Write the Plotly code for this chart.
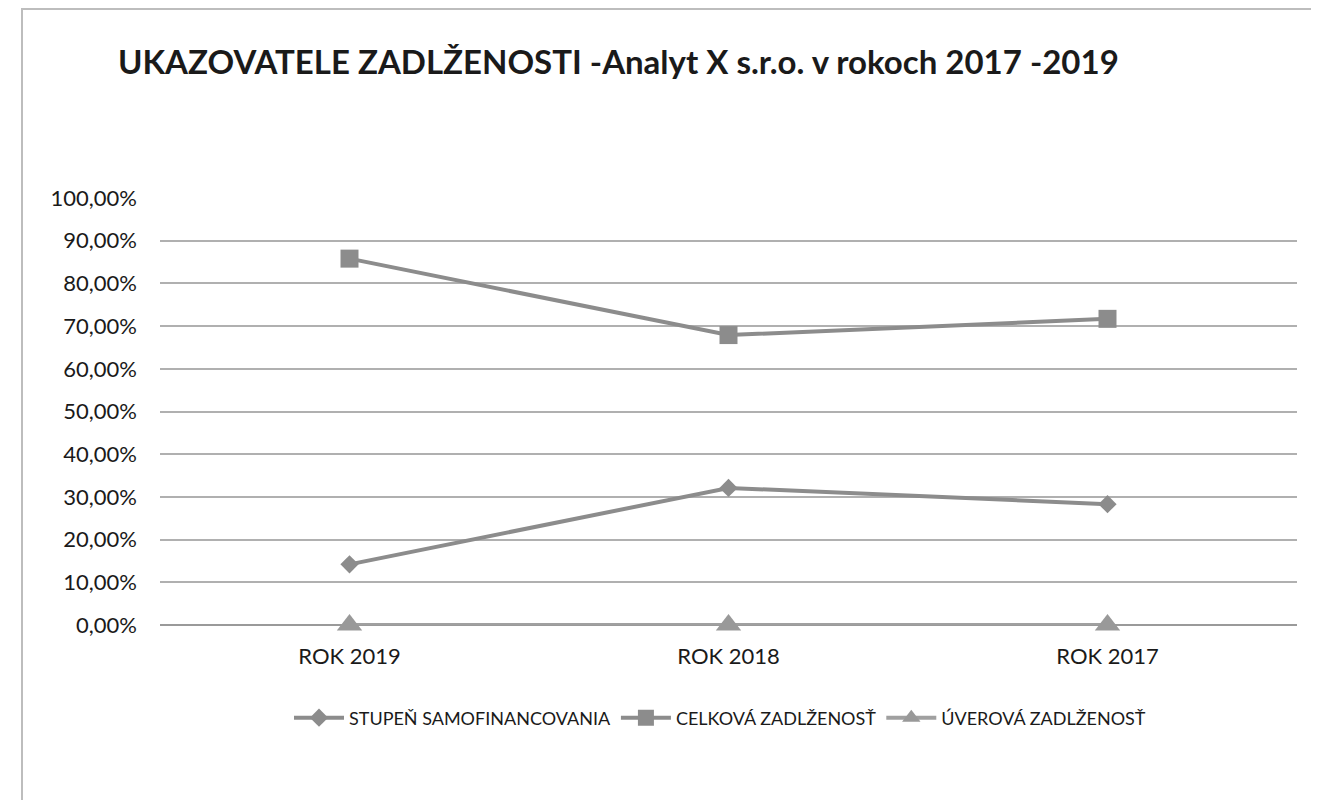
import plotly.graph_objects as go

categories = ["ROK 2019", "ROK 2018", "ROK 2017"]
stupen = [14.2, 32.1, 28.3]
celkova = [85.8, 67.9, 71.7]
uverova = [0.0, 0.0, 0.0]
tick_vals = [0, 10, 20, 30, 40, 50, 60, 70, 80, 90, 100]
tick_text = ["0,00%", "10,00%", "20,00%", "30,00%", "40,00%", "50,00%",
             "60,00%", "70,00%", "80,00%", "90,00%", "100,00%"]

FONT = "Lato, 'Open Sans', sans-serif"
grey = "#8c8c8c"

fig = go.Figure()
fig.add_trace(go.Scatter(x=categories, y=stupen, name="STUPEŇ SAMOFINANCOVANIA",
                         mode="lines+markers", line=dict(color=grey, width=4),
                         marker=dict(symbol="diamond", size=14, color=grey),
                         cliponaxis=False))
fig.add_trace(go.Scatter(x=categories, y=celkova, name="CELKOVÁ ZADLŽENOSŤ",
                         mode="lines+markers", line=dict(color=grey, width=4),
                         marker=dict(symbol="square", size=18, color=grey),
                         cliponaxis=False))
fig.add_trace(go.Scatter(x=categories, y=uverova, name="ÚVEROVÁ ZADLŽENOSŤ",
                         mode="lines+markers", line=dict(color="#a0a0a0", width=4),
                         marker=dict(symbol="triangle-up", size=22, color="#999999"),
                         cliponaxis=False))

# page has an 8px body margin; figure is sized so its right/bottom edges meet the window
W, H = 1311, 792
L, R, T, B = 152, 22, 190, 175
pw, ph = W - L - R, H - T - B

fig.update_layout(
    width=W, height=H,
    paper_bgcolor="white", plot_bgcolor="white",
    margin=dict(l=L, r=R, t=T, b=B, autoexpand=False),
    font=dict(family=FONT, color="#1a1a1a", size=22),
    title=dict(text="<b>UKAZOVATELE ZADLŽENOSTI -Analyt X s.r.o. v rokoch 2017 -2019</b>",
               x=110/W, xanchor="left", y=1-54/H, yanchor="middle",
               font=dict(size=33, family=FONT, color="#1a1a1a")),
    xaxis=dict(range=[-0.5, 2.5], showgrid=False, showline=False, ticks="",
               ticklabelstandoff=16, tickfont=dict(size=22)),
    yaxis=dict(range=[0, 100], tickvals=tick_vals, ticktext=tick_text,
               showgrid=True, gridcolor="#b0b0b0", gridwidth=1.5,
               zeroline=True, zerolinecolor="#9a9a9a", zerolinewidth=2,
               ticks="", ticklen=0, ticklabelstandoff=22, tickfont=dict(size=22)),
    legend=dict(orientation="h", x=(720 - 8 - L) / pw, xanchor="center",
                y=-(710 - T - ph) / ph, yanchor="middle",
                font=dict(size=18), itemwidth=50, tracegroupgap=0),
    showlegend=True,
)
fig.add_shape(type="rect", xref="paper", yref="paper",
              x0=(14 - L) / pw, x1=(1308 - L) / pw,
              y0=-(H + 20 - T - ph) / ph, y1=1 + (T - 1) / ph,
              line=dict(color="#bdbdbd", width=2), fillcolor="rgba(0,0,0,0)", layer="below")

fig.write_html("out.html")
